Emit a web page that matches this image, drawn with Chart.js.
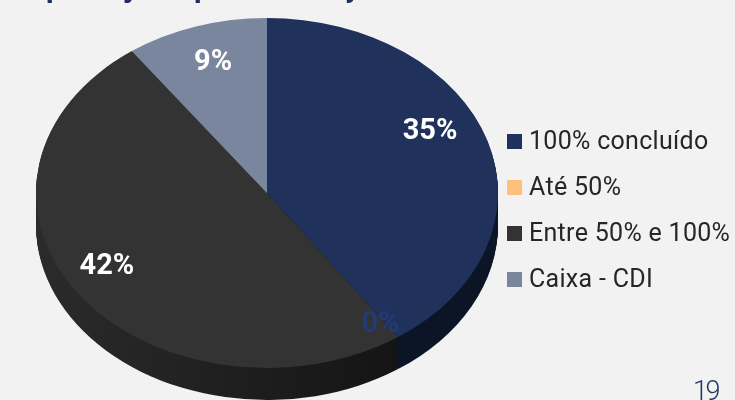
<!DOCTYPE html>
<html lang="pt">
    <head>
        <meta charset="utf-8"/>
        <title>Carteira</title>
        <script src="https://cdn.jsdelivr.net/npm/chart.js@4/dist/chart.umd.min.js"></script>
        <style>
            html, body { margin: 0; padding: 0; background: #f2f2f2; overflow: hidden; }
            #wrap { position: relative; width: 735px; height: 400px; overflow: hidden; font-family: Roboto, sans-serif; }
            #grafico { position: absolute; left: 0; top: 0; }
            #legenda { position: absolute; left: 507px; top: 118px; margin: 0; padding: 0; list-style: none; white-space: nowrap; }
            #legenda li { height: 46px; line-height: 46px; font-size: 25px; letter-spacing: 0.3px; color: #262626; }
            #legenda i { display: inline-block; width: 15px; height: 15px; margin-right: 7px; }
            #pagina { position: absolute; left: 693px; top: 375px; font-size: 27px; font-weight: 300; letter-spacing: -2.5px; color: #1f3864; }
            .cauda { position: absolute; top: -31px; font-size: 30px; font-weight: 700; color: #1f3060; }
        </style>
    </head>
    <body>
        <div id="wrap">
            <canvas id="grafico" width="735" height="400"></canvas>
            <ul id="legenda"></ul>
            <div id="pagina">19</div>
            <span class="cauda" style="left:46px">p</span>
            <span class="cauda" style="left:126px">j</span>
            <span class="cauda" style="left:194px">p</span>
            <span class="cauda" style="left:345px">y</span>
        </div>

        <script>
            const categorias = ['100% concluído', 'Até 50%', 'Entre 50% e 100%', 'Caixa - CDI'];
            const valores = [34.5, 0, 42.4, 8.5];
            const cores = ['#20315c', '#ffc07a', '#333333', '#7a859e'];
            const coresLateral = [['#101d35', '#0b1526'], ['#cc9a60', '#cc9a60'], ['#2b2b2b', '#141414'], ['#5c6477', '#5c6477']];
            const coresRotulo = ['#ffffff', '#233a72', '#ffffff', '#ffffff'];
            const deslocAngulo = [-9, 1.5, 4, 0.5];   // graus, rotulo fora do meio da fatia
            const raioRotulo = [0.787, 0.90, 0.81, 0.78];

            // pizza "3D": elipse + espessura
            const pizza = { cx: 267, cy: 193, rx: 231, ry: 175, prof: 32 };

            function aplicaElipse(ctx, arco, dy) {
                ctx.translate(pizza.cx, pizza.cy + dy);
                ctx.scale(pizza.rx / arco.outerRadius, pizza.ry / arco.outerRadius);
                ctx.translate(-arco.x, -arco.y);
            }

            const pizza3d = {
                id: 'pizza3d',
                beforeDatasetsDraw(chart) {
                    const ctx = chart.ctx;
                    const arcos = chart.getDatasetMeta(0).data;
                    for (let d = pizza.prof; d > 0; d--) {
                        arcos.forEach(function(arco, i) {
                            if (arco.endAngle - arco.startAngle <= 0) return;
                            ctx.save();
                            aplicaElipse(ctx, arco, d);
                            const grad = ctx.createLinearGradient(arco.x - arco.outerRadius, 0, arco.x + arco.outerRadius * 0.6, 0);
                            grad.addColorStop(0, coresLateral[i][0]);
                            grad.addColorStop(1, coresLateral[i][1]);
                            ctx.fillStyle = grad;
                            ctx.beginPath();
                            ctx.moveTo(arco.x, arco.y);
                            ctx.arc(arco.x, arco.y, arco.outerRadius, arco.startAngle, arco.endAngle);
                            ctx.closePath();
                            ctx.fill();
                            ctx.restore();
                        });
                    }
                    ctx.save();
                    aplicaElipse(ctx, arcos[0], 0);
                },
                afterDatasetsDraw(chart) {
                    const ctx = chart.ctx;
                    ctx.restore();
                    ctx.save();
                    ctx.font = '700 29px Roboto, sans-serif';
                    ctx.textAlign = 'center';
                    ctx.textBaseline = 'middle';
                    chart.getDatasetMeta(0).data.forEach(function(arco, i) {
                        const meio = (arco.startAngle + arco.endAngle) / 2 + deslocAngulo[i] * Math.PI / 180;
                        const x = pizza.cx + pizza.rx * raioRotulo[i] * Math.cos(meio);
                        const y = pizza.cy + pizza.ry * raioRotulo[i] * Math.sin(meio);
                        ctx.fillStyle = coresRotulo[i];
                        ctx.fillText(Math.round(valores[i]) + '%', x, y);
                    });
                    ctx.restore();
                }
            };

            const chart = new Chart(document.getElementById('grafico').getContext('2d'), {
                type: 'pie',
                data: {
                    labels: categorias,
                    datasets: [{
                        data: valores,
                        backgroundColor: cores,
                        borderWidth: 0,
                        clip: false
                    }]
                },
                options: {
                    responsive: false,
                    animation: false,
                    layout: { padding: { top: 25, bottom: 25 } },
                    plugins: { legend: { display: false }, tooltip: { enabled: false } }
                },
                plugins: [pizza3d]
            });

            // legenda em html, gerada pelo proprio chart
            const itens = Chart.overrides.pie.plugins.legend.labels.generateLabels(chart);
            document.getElementById('legenda').innerHTML = itens.map(function(it) {
                return '<li><i style="background:' + it.fillStyle + '"></i>' + it.text + '</li>';
            }).join('');
        </script>
    </body>
</html>
